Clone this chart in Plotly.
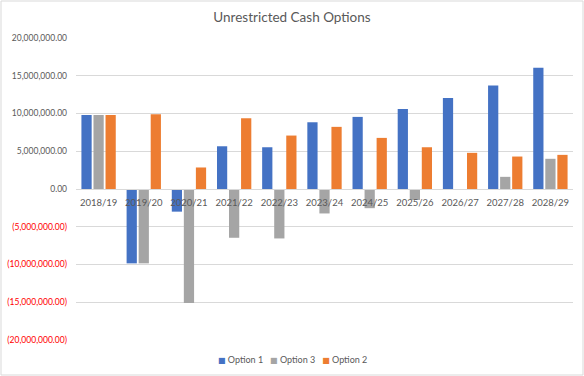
import plotly.graph_objects as go

categories = ["2018/19", "2019/20", "2020/21", "2021/22", "2022/23", "2023/24",
              "2024/25", "2025/26", "2026/27", "2027/28", "2028/29"]
option1 = [9.8e6, -9.85e6, -3.0e6, 5.66e6, 5.53e6, 8.84e6, 9.55e6, 10.6e6, 12.06e6, 13.7e6, 16.07e6]
option3 = [9.8e6, -9.85e6, -15.1e6, -6.46e6, -6.55e6, -3.24e6, -2.54e6, -1.45e6, 0.0, 1.61e6, 4.0e6]
option2 = [9.8e6, 9.9e6, 2.85e6, 9.37e6, 7.08e6, 8.23e6, 6.77e6, 5.53e6, 4.79e6, 4.3e6, 4.52e6]

tick_vals = [20e6, 15e6, 10e6, 5e6, 0, -5e6, -10e6, -15e6, -20e6]
tick_text_raw = ["20,000,000.00", "15,000,000.00", "10,000,000.00", "5,000,000.00", "0.00",
                 "(5,000,000.00)", "(10,000,000.00)", "(15,000,000.00)", "(20,000,000.00)"]
tick_text = [t if v >= 0 else '<span style="color:#FF0000">' + t + '</span>'
             for v, t in zip(tick_vals, tick_text_raw)]

FONT = "Lato, Open Sans, sans-serif"
GREY_TXT = "#595959"

series = [("Option 1", option1, "#4472C4"),
          ("Option 3", option3, "#A5A5A5"),
          ("Option 2", option2, "#ED7D31")]

fig = go.Figure()
for name, vals, color in series:
    fig.add_trace(go.Bar(x=categories, y=vals, name=name, marker_color=color,
                         marker_line_width=0, showlegend=False))

L, R, T, B = 76, 11, 38, 36
W, H = 584, 376
pw, ph = W - L - R, H - T - B

# compact legend row (Excel style) built as text
legend_text = "&nbsp;&nbsp;&nbsp;".join(
    '<span style="color:%s;font-family:DejaVu Sans;font-size:8px">■</span> %s' % (c, n)
    for n, _, c in series)

fig.update_layout(
    width=W, height=H,
    margin=dict(l=L, r=R, t=T, b=B, pad=0, autoexpand=False),
    paper_bgcolor="white", plot_bgcolor="white",
    barmode="group", bargap=0.2, bargroupgap=0.15,
    title=dict(text="Unrestricted Cash Options", x=0.5, xanchor="center",
               xref="container",
               y=1 - 17 / H, yanchor="middle",
               font=dict(family=FONT, size=13.5, color=GREY_TXT)),
    font=dict(family=FONT, size=9.5, color=GREY_TXT),
    showlegend=False,
    annotations=[dict(text=legend_text, xref="paper", yref="paper",
                      x=(292 - L) / pw, y=(340 - 360) / ph,
                      xanchor="center", yanchor="middle", showarrow=False,
                      font=dict(family=FONT, size=9, color=GREY_TXT))],
    xaxis=dict(type="category", anchor="free", position=0.5, showline=True,
               linecolor="#D9D9D9", linewidth=1, ticks="", showgrid=False,
               automargin=False,
               tickfont=dict(family=FONT, size=9.5, color=GREY_TXT), ticklabelstandoff=5),
    yaxis=dict(range=[-20e6, 20e6], tickvals=tick_vals, ticktext=tick_text,
               showgrid=True, gridcolor="#D9D9D9", gridwidth=1, zeroline=False,
               ticks="", showline=False, automargin=False,
               tickfont=dict(family=FONT, size=8.5, color=GREY_TXT), ticklabelstandoff=8),
    shapes=[dict(type="rect", xref="paper", yref="paper",
                 x0=(1 - L) / pw, x1=(583 - L) / pw,
                 y0=(340 - 375) / ph, y1=(340 - 1) / ph,
                 line=dict(color="#D9D9D9", width=1), fillcolor="rgba(0,0,0,0)", layer="below")],
)

fig.write_html("out.html", config={"displayModeBar": False},
               post_script="document.body.style.margin='0';document.body.style.padding='0';")
